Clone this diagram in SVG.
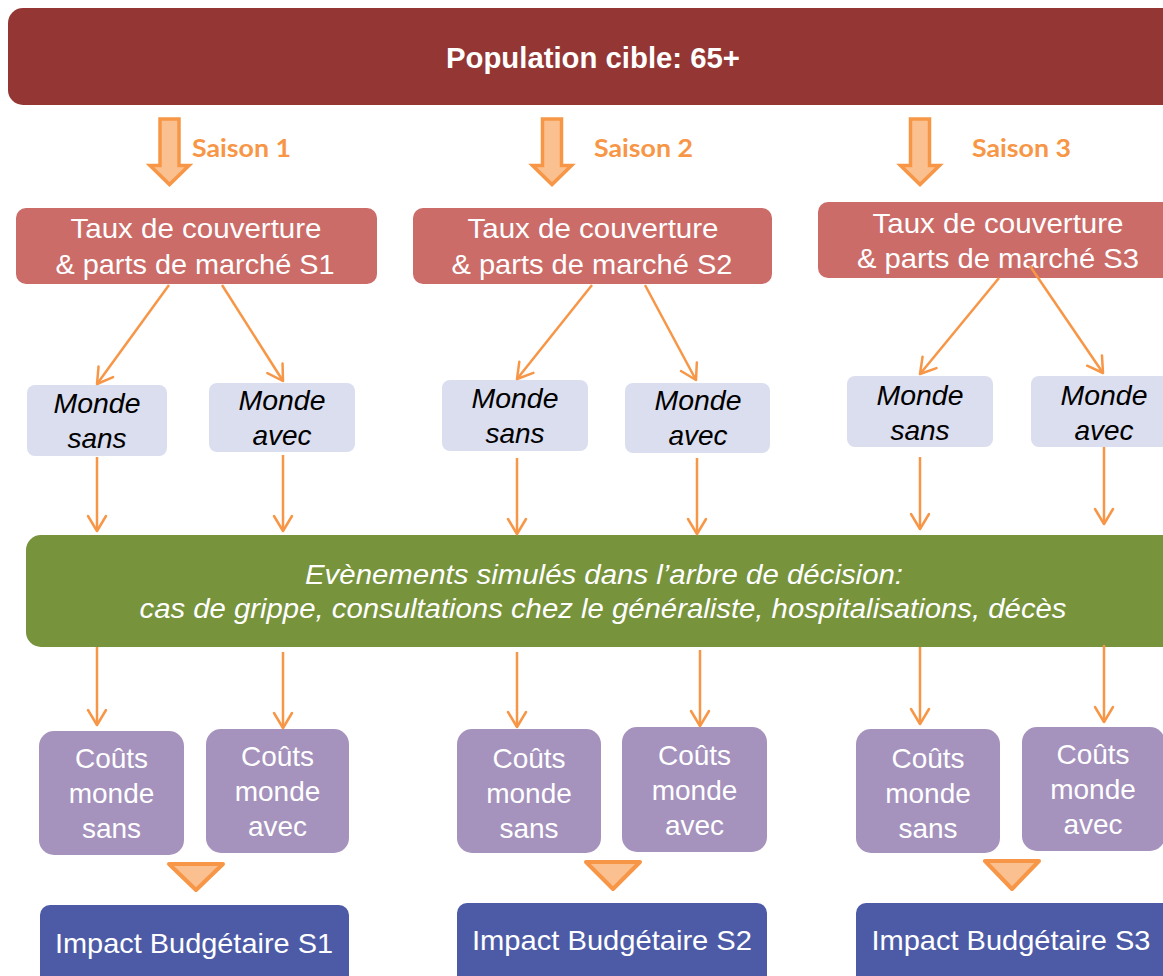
<svg xmlns="http://www.w3.org/2000/svg" width="1163" height="976" viewBox="0 0 1163 976">
<defs>
<style>
.t{font-family:"Liberation Sans",Arial,sans-serif;fill:#fff;text-anchor:middle}
.ti{font-family:"Liberation Sans",Arial,sans-serif;font-style:italic;text-anchor:middle}
.sa{font-family:Lato,"Open Sans",sans-serif;font-weight:bold;fill:#F79646;font-size:25px}
.c{stroke:#F79646;stroke-width:2.5;fill:none;marker-end:url(#ah)}
.blk{fill:#FAC090;stroke:#F79646;stroke-width:3.5;stroke-linejoin:miter}
.tri{fill:#FAC090;stroke:#F79646;stroke-width:4;stroke-linejoin:round}
</style>
<marker id="ah" markerUnits="userSpaceOnUse" markerWidth="24" markerHeight="24" viewBox="-18 -12 20 24" refX="0" refY="0" orient="auto">
<path d="M-15,-9 L0,0 L-15,9" fill="none" stroke="#F79646" stroke-width="2.5" stroke-linecap="round" stroke-linejoin="round"/>
</marker>
<path id="blockArrow" class="blk" d="M-9.5,-68 L9.5,-68 L9.5,-21.5 L19.5,-21.5 L0,-2.5 L-19.5,-21.5 L-9.5,-21.5 Z"/>
</defs>

<g id="population">
<rect x="8" y="8" width="1175" height="97" rx="15" fill="#943634"/>
<text class="t" x="593" y="68" font-size="29" font-weight="bold" textLength="294" lengthAdjust="spacingAndGlyphs">Population cible: 65+</text>
</g>

<g id="saison1"><use href="#blockArrow" x="169.5" y="187"/><text class="sa" x="192" y="157" textLength="99" lengthAdjust="spacingAndGlyphs">Saison 1</text></g>
<g id="saison2"><use href="#blockArrow" x="552" y="187"/><text class="sa" x="594" y="157" textLength="99" lengthAdjust="spacingAndGlyphs">Saison 2</text></g>
<g id="saison3"><use href="#blockArrow" x="920" y="187"/><text class="sa" x="972" y="157" textLength="99" lengthAdjust="spacingAndGlyphs">Saison 3</text></g>

<g id="taux1">
<rect x="16" y="208" width="361" height="76" rx="10" fill="#CB6C69"/>
<text class="t" font-size="27.5" x="196" y="238" textLength="251" lengthAdjust="spacingAndGlyphs">Taux de couverture</text>
<text class="t" font-size="27.5" x="195" y="274" textLength="279" lengthAdjust="spacingAndGlyphs">&amp; parts de marché S1</text>
</g>
<g id="taux2">
<rect x="413" y="208" width="359" height="76" rx="10" fill="#CB6C69"/>
<text class="t" font-size="27.5" x="593" y="238" textLength="251" lengthAdjust="spacingAndGlyphs">Taux de couverture</text>
<text class="t" font-size="27.5" x="592" y="274" textLength="281" lengthAdjust="spacingAndGlyphs">&amp; parts de marché S2</text>
</g>
<g id="taux3">
<rect x="818" y="202" width="360" height="76" rx="10" fill="#CB6C69"/>
<text class="t" font-size="27.5" x="998" y="233" textLength="251" lengthAdjust="spacingAndGlyphs">Taux de couverture</text>
<text class="t" font-size="27.5" x="998" y="268" textLength="282" lengthAdjust="spacingAndGlyphs">&amp; parts de marché S3</text>
</g>

<g id="monde-sans-1"><rect x="27" y="385" width="140" height="71" rx="8" fill="#DBDEEE"/>
<text class="ti" font-size="28" x="97" y="413" textLength="87" lengthAdjust="spacingAndGlyphs">Monde</text><text class="ti" font-size="28" x="97" y="448">sans</text></g>
<g id="monde-avec-1"><rect x="209" y="383" width="146" height="69" rx="8" fill="#DBDEEE"/>
<text class="ti" font-size="28" x="282" y="410" textLength="87" lengthAdjust="spacingAndGlyphs">Monde</text><text class="ti" font-size="28" x="282" y="445">avec</text></g>
<g id="monde-sans-2"><rect x="442" y="380" width="146" height="71" rx="8" fill="#DBDEEE"/>
<text class="ti" font-size="28" x="515" y="408" textLength="87" lengthAdjust="spacingAndGlyphs">Monde</text><text class="ti" font-size="28" x="515" y="443">sans</text></g>
<g id="monde-avec-2"><rect x="625" y="383" width="145" height="70" rx="8" fill="#DBDEEE"/>
<text class="ti" font-size="28" x="698" y="410" textLength="87" lengthAdjust="spacingAndGlyphs">Monde</text><text class="ti" font-size="28" x="698" y="445">avec</text></g>
<g id="monde-sans-3"><rect x="847" y="376" width="146" height="71" rx="8" fill="#DBDEEE"/>
<text class="ti" font-size="28" x="920" y="405" textLength="87" lengthAdjust="spacingAndGlyphs">Monde</text><text class="ti" font-size="28" x="920" y="440">sans</text></g>
<g id="monde-avec-3"><rect x="1031" y="376" width="150" height="71" rx="8" fill="#DBDEEE"/>
<text class="ti" font-size="28" x="1104" y="405" textLength="87" lengthAdjust="spacingAndGlyphs">Monde</text><text class="ti" font-size="28" x="1104" y="440">avec</text></g>

<g id="evenements">
<rect x="26" y="535" width="1160" height="112" rx="15" fill="#77933C"/>
<text class="ti" fill="#fff" font-size="27" x="604" y="584" textLength="598" lengthAdjust="spacingAndGlyphs">Evènements simulés dans l’arbre de décision:</text>
<text class="ti" fill="#fff" font-size="27" x="603" y="618" textLength="927" lengthAdjust="spacingAndGlyphs">cas de grippe, consultations chez le généraliste, hospitalisations, décès</text>
</g>

<g id="couts-sans-1"><rect x="39" y="731" width="145" height="124" rx="15" fill="#A592BD"/>
<text class="t" font-size="28" x="111.5" y="768">Coûts</text><text class="t" font-size="28" x="111.5" y="803">monde</text><text class="t" font-size="28" x="111.5" y="838">sans</text></g>
<g id="couts-avec-1"><rect x="206" y="729" width="143" height="124" rx="15" fill="#A592BD"/>
<text class="t" font-size="28" x="277.5" y="766">Coûts</text><text class="t" font-size="28" x="277.5" y="801">monde</text><text class="t" font-size="28" x="277.5" y="836">avec</text></g>
<g id="couts-sans-2"><rect x="457" y="729" width="144" height="124" rx="15" fill="#A592BD"/>
<text class="t" font-size="28" x="529" y="768">Coûts</text><text class="t" font-size="28" x="529" y="803">monde</text><text class="t" font-size="28" x="529" y="838">sans</text></g>
<g id="couts-avec-2"><rect x="622" y="727" width="145" height="125" rx="15" fill="#A592BD"/>
<text class="t" font-size="28" x="694.5" y="765">Coûts</text><text class="t" font-size="28" x="694.5" y="800">monde</text><text class="t" font-size="28" x="694.5" y="835">avec</text></g>
<g id="couts-sans-3"><rect x="856" y="729" width="144" height="124" rx="15" fill="#A592BD"/>
<text class="t" font-size="28" x="928" y="768">Coûts</text><text class="t" font-size="28" x="928" y="803">monde</text><text class="t" font-size="28" x="928" y="838">sans</text></g>
<g id="couts-avec-3"><rect x="1022" y="727" width="143" height="124" rx="15" fill="#A592BD"/>
<text class="t" font-size="28" x="1093" y="764">Coûts</text><text class="t" font-size="28" x="1093" y="799">monde</text><text class="t" font-size="28" x="1093" y="834">avec</text></g>

<g id="merge1"><polygon class="tri" points="169,864 223,864 196,890"/></g>
<g id="merge2"><polygon class="tri" points="586,862 640,862 613,889"/></g>
<g id="merge3"><polygon class="tri" points="985,861 1039,861 1012,889"/></g>

<g id="impact1"><rect x="40" y="905" width="309" height="90" rx="10" fill="#4D5BA7"/>
<text class="t" font-size="28" x="194" y="953" textLength="278" lengthAdjust="spacingAndGlyphs">Impact Budgétaire S1</text></g>
<g id="impact2"><rect x="457" y="903" width="310" height="90" rx="10" fill="#4D5BA7"/>
<text class="t" font-size="28" x="612" y="950" textLength="280" lengthAdjust="spacingAndGlyphs">Impact Budgétaire S2</text></g>
<g id="impact3"><rect x="856" y="903" width="320" height="90" rx="10" fill="#4D5BA7"/>
<text class="t" font-size="28" x="1011" y="950" textLength="279" lengthAdjust="spacingAndGlyphs">Impact Budgétaire S3</text></g>

<g id="connectors">
<line class="c" x1="169" y1="285" x2="97" y2="384"/>
<line class="c" x1="222" y1="285" x2="283" y2="381"/>
<line class="c" x1="592" y1="285" x2="517" y2="379"/>
<line class="c" x1="645" y1="285" x2="696" y2="380"/>
<line class="c" x1="999" y1="278" x2="920" y2="374"/>
<line class="c" x1="1030" y1="266" x2="1103" y2="373"/>
<line class="c" x1="97" y1="457" x2="97" y2="531"/>
<line class="c" x1="283" y1="455" x2="283" y2="531"/>
<line class="c" x1="517" y1="458" x2="517" y2="534"/>
<line class="c" x1="697" y1="458" x2="697" y2="534"/>
<line class="c" x1="920" y1="457" x2="920" y2="529"/>
<line class="c" x1="1104" y1="447" x2="1104" y2="524"/>
<line class="c" x1="97" y1="647" x2="97" y2="725"/>
<line class="c" x1="283" y1="652" x2="283" y2="728"/>
<line class="c" x1="517" y1="652" x2="517" y2="727"/>
<line class="c" x1="700" y1="650" x2="700" y2="726"/>
<line class="c" x1="920" y1="647" x2="920" y2="724"/>
<line class="c" x1="1104" y1="645" x2="1104" y2="722"/>
</g>
</svg>
